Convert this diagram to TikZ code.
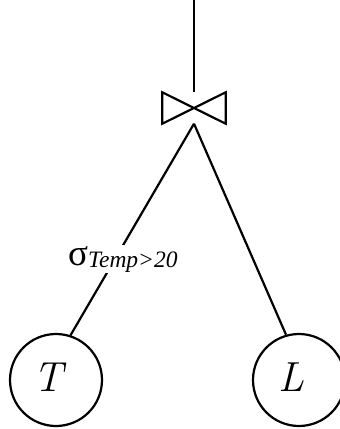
\documentclass[tikz,border=0pt]{standalone}
\usepackage{fontspec}
\newfontfamily\lib{Liberation Serif}
\newcommand{\rellabel}[1]{\raisebox{6pt}{#1}\kern16pt}
\begin{document}
\begin{tikzpicture}[x=1pt,y=-1pt,
  ln/.style={line width=2.2pt},
  rel/.style={circle,draw,line width=2.2pt,minimum size=92pt,inner sep=0pt,
    font=\fontsize{42}{42}\selectfont\itshape},
  lbl/.style={fill=white,inner sep=1pt,anchor=base west}]
\useasboundingbox (0,0) rectangle (340,429);
\coordinate (top) at (194,0);
\node (j) [minimum width=63pt,minimum height=31pt,inner sep=0pt] at (194,108) {};
\draw[ln,line join=miter] (j.north west) -- (j.south west) -- (j.north east) -- (j.south east) -- cycle;
\node[rel] (T) at (56,380) {\rellabel{T}};
\node[rel] (L) at (299,380) {\rellabel{L}};
\draw[ln] (top) -- (j.north);
\draw[ln] (j.south) -- (T.72);
\draw[ln] (j.south) -- (L.106);
\node[lbl] (s) at (67,265) {\lib\fontsize{37}{37}\selectfont σ\raisebox{-2pt}{\fontsize{23.5}{23.5}\selectfont\itshape Temp>20}};
\end{tikzpicture}
\end{document}
